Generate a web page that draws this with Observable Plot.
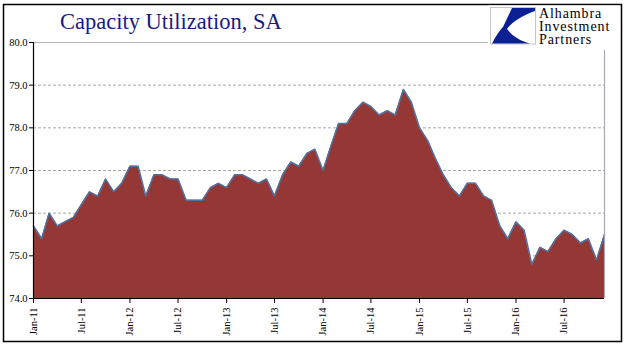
<!DOCTYPE html>
<html>
<head>
<meta charset="utf-8">
<script src="https://cdn.jsdelivr.net/npm/d3@7"></script>
<script src="https://cdn.jsdelivr.net/npm/@observablehq/plot@0.6"></script>
<style>
  html, body { margin: 0; padding: 0; background: #fff; }
  #chart { width: 641px; height: 358px; }
</style>
</head>
<body>
<div id="chart"></div>
<script>
const title = "Capacity Utilization, SA";
const logoLines = ["Alhambra", "Investment", "Partners"];
const startYear = 2011;
const values = [
  75.7, 75.4, 76.0, 75.7, 75.8, 75.9, 76.2, 76.5, 76.4, 76.8, 76.5, 76.7,
  77.1, 77.1, 76.4, 76.9, 76.9, 76.8, 76.8, 76.3, 76.3, 76.3, 76.6, 76.7,
  76.6, 76.9, 76.9, 76.8, 76.7, 76.8, 76.4, 76.9, 77.2, 77.1, 77.4, 77.5,
  77.0, 77.6, 78.1, 78.1, 78.4, 78.6, 78.5, 78.3, 78.4, 78.3, 78.9, 78.6,
  78.0, 77.7, 77.3, 76.9, 76.6, 76.4, 76.7, 76.7, 76.4, 76.3, 75.7, 75.4,
  75.8, 75.6, 74.8, 75.2, 75.1, 75.4, 75.6, 75.5, 75.3, 75.4, 74.9, 75.5
];
const yTicks = [74, 75, 76, 77, 78, 79, 80];
const yGrid = [75, 76, 77, 78, 79];
const yMin = 74, yMax = 80;

const data = values.map((v, i) => ({ date: new Date(Date.UTC(startYear, i, 1)), value: v }));
const firstDate = data[0].date;
const lastDate = data[data.length - 1].date;

const chart = Plot.plot({
  width: 641,
  height: 358,
  marginLeft: 33,
  marginRight: 37,
  marginTop: 42,
  marginBottom: 60,
  style: { fontFamily: "'Liberation Serif', 'Times New Roman', serif", fontSize: "10.5px", color: "#000", background: "#fff" },
  x: { type: "utc", domain: [firstDate, lastDate] },
  y: { domain: [yMin, yMax] },
  marks: [
    Plot.ruleY(yGrid, { stroke: "#a8a8a8", strokeWidth: 1, strokeDasharray: "3,2" }),
    Plot.ruleY([yMax], { stroke: "#b4b4b4", strokeWidth: 1.2 }),
    Plot.areaY(data, { x: "date", y1: yMin, y2: "value", fill: "#953735", curve: "linear" }),
    Plot.lineY(data, { x: "date", y: "value", stroke: "#4f71a0", strokeWidth: 1.5 }),
    Plot.ruleX([lastDate], { y1: yMin, y2: yMax, stroke: "#a8a8b8", strokeWidth: 1.2 }),
    Plot.axisY({ ticks: yTicks, tickFormat: d => d.toFixed(1), tickSize: 4, tickPadding: 2, anchor: "left", label: null, stroke: "#000", fill: "#000" }),
    Plot.ruleX([firstDate], { y1: yMin, y2: yMax, stroke: "#000", strokeWidth: 1.2 }),
    Plot.ruleY([yMin], { stroke: "#000", strokeWidth: 1.2 }),
    Plot.axisX({ ticks: d3.utcMonth.every(6), tickFormat: d3.utcFormat("%b-%y"), tickRotate: -90, tickSize: 5, tickPadding: 4, label: null, stroke: "#000", fill: "#000" })
  ]
});

document.getElementById("chart").appendChild(chart);

const svg = d3.select(chart);
// outer border
svg.append("rect")
  .attr("x", 3.5).attr("y", 4.5).attr("width", 618).attr("height", 337)
  .attr("fill", "none").attr("stroke", "#000").attr("stroke-width", 1.5);
// title
svg.append("text")
  .attr("x", 60).attr("y", 29)
  .attr("text-anchor", "start")
  .attr("fill", "#1a1a80")
  .attr("font-family", "'Liberation Serif', 'Times New Roman', serif")
  .attr("font-size", 22.5)
  .text(title);
// logo
const logo = svg.append("g");
logo.append("rect").attr("x", 488).attr("y", 5.5).attr("width", 132).attr("height", 44.5).attr("fill", "#fff");
logo.append("rect").attr("x", 490.5).attr("y", 7.5).attr("width", 45).attr("height", 36.5)
  .attr("fill", "#fff").attr("stroke", "#c4c4c4").attr("stroke-width", 1);
logo.append("path")
  .attr("d", "M512 8 L535 8 L535 11 C521 16 511 23 507 29 C512 36 520 41 530 43.5 L492 43.5 C496 36 499 31 503 27 Z")
  .attr("fill", "#0a1f94");
logo.selectAll("text.logo").data(logoLines).join("text")
  .attr("class", "logo")
  .attr("x", 539).attr("y", (d, i) => 18 + i * 13)
  .attr("text-anchor", "start")
  .attr("fill", "#000")
  .attr("font-family", "'Liberation Serif', 'Times New Roman', serif")
  .attr("font-size", 14)
  .attr("letter-spacing", 0.9)
  .text(d => d);
</script>
</body>
</html>
